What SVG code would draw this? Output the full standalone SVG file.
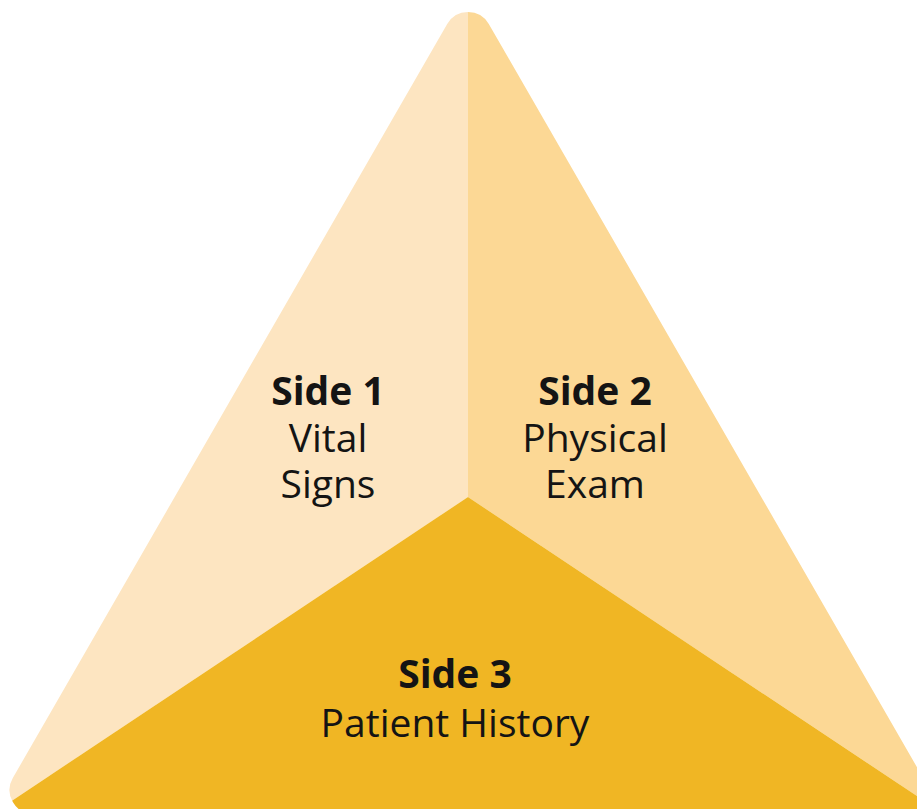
<svg xmlns="http://www.w3.org/2000/svg" width="917" height="809" viewBox="0 0 917 809">
  <style>
    .label { font-family: "Open Sans", "Liberation Sans", sans-serif; font-size: 39px; fill: #141414; text-anchor: middle; }
    .title { font-weight: 700; }
    .face-1 { fill: #FDE5C1; }
    .face-2 { fill: #FCD895; }
    .face-3 { fill: #F0B624; }
  </style>
  <defs>
    <!-- Outer equilateral triangle with rounded corners -->
    <clipPath id="pyramid">
      <path d="M447.2,24 A24,24 0 0 1 488.8,24 L923.2,778 A24,24 0 0 1 902.4,814 L33.6,814 A24,24 0 0 1 12.8,778 Z"/>
    </clipPath>
  </defs>
  <rect width="917" height="809" fill="#FFFFFF"/>
  <g clip-path="url(#pyramid)">
    <g id="side1">
      <polygon class="face-1" points="468,-40 468,497 -8,814 -80,900 -80,-40"/>
    </g>
    <g id="side2">
      <polygon class="face-2" points="468,-40 1000,-40 1000,900 944,814 468,497"/>
    </g>
    <g id="side3">
      <polygon class="face-3" points="468,497 944,814 1000,900 -80,900 -8,814"/>
    </g>
  </g>
  <g id="side1-label">
    <text class="label title" x="328" y="405">Side 1</text>
    <text class="label" x="328" y="452">Vital</text>
    <text class="label" x="328" y="498">Signs</text>
  </g>
  <g id="side2-label">
    <text class="label title" x="595" y="405">Side 2</text>
    <text class="label" x="595" y="452">Physical</text>
    <text class="label" x="595" y="498">Exam</text>
  </g>
  <g id="side3-label">
    <text class="label title" x="455" y="688">Side 3</text>
    <text class="label" x="455" y="737">Patient History</text>
  </g>
</svg>
